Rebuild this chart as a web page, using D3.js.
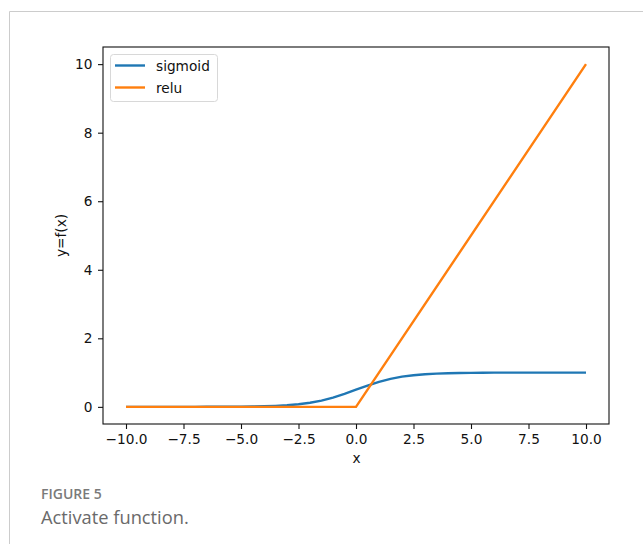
<!DOCTYPE html>
<html><head><meta charset="utf-8">
<script src="https://cdn.jsdelivr.net/npm/d3@7"></script>
<style>body{margin:0;background:#fff}svg{display:block}</style>
</head><body>
<script>
const xs = [-10,-9.5,-9,-8.5,-8,-7.5,-7,-6.5,-6,-5.5,-5,-4.5,-4,-3.5,-3,-2.5,-2,-1.5,-1,-0.5,0,0.5,1,1.5,2,2.5,3,3.5,4,4.5,5,5.5,6,6.5,7,7.5,8,8.5,9,9.5,10];
const sigmoidVals = [0.00005,0.00007,0.00012,0.0002,0.00034,0.00055,0.0009,0.0015,0.0025,0.0041,0.0067,0.011,0.018,0.029,0.047,0.076,0.119,0.182,0.269,0.378,0.5,0.622,0.731,0.818,0.881,0.924,0.953,0.971,0.982,0.989,0.993,0.996,0.998,0.998,0.999,0.999,1,1,1,1,1];
const reluX = [-10,0,10];
const reluVals = [0,0,10];
const xTicks = [-10,-7.5,-5,-2.5,0,2.5,5,7.5,10];
const yTicks = [0,2,4,6,8,10];
const seriesNames = ["sigmoid","relu"];
const colors = ["#1f77b4","#ff7f0e"];

const W=643,H=544;
const svg=d3.select("body").append("svg").attr("width",W).attr("height",H);
svg.append("path").attr("d",`M9.5,${H+2} V11.5 H${W+2}`).attr("fill","none").attr("stroke","#ccc").attr("stroke-width",1);

const L=103,R=609,T=47,B=424;
const x=d3.scaleLinear().domain([-11,11]).range([L,R]);
const y=d3.scaleLinear().domain([-0.5,10.5]).range([B,T]);
const fmtX=d=>d3.format(".1f")(d).replace("-","−");
const font="DejaVu Sans, sans-serif";
const fs="13.7px";
const ink="#111";

const gx=svg.append("g").attr("transform",`translate(0,${B})`).call(d3.axisBottom(x).tickValues(xTicks).tickFormat(fmtX).tickSize(5).tickSizeOuter(0).tickPadding(5.5));
const gy=svg.append("g").attr("transform",`translate(${L},0)`).call(d3.axisLeft(y).tickValues(yTicks).tickFormat(d3.format("d")).tickSize(5).tickSizeOuter(0).tickPadding(5.5));
[gx,gy].forEach(g=>{g.select(".domain").remove();g.selectAll("line").attr("stroke",ink).attr("stroke-width",1.1);g.selectAll("text").attr("font-family",font).attr("font-size",fs).attr("fill",ink);});

const line=d3.line().x(d=>x(d[0])).y(d=>y(d[1]));
svg.append("defs").append("clipPath").attr("id","c").append("rect").attr("x",L).attr("y",T).attr("width",R-L).attr("height",B-T);
svg.append("path").datum(xs.map((v,i)=>[v,sigmoidVals[i]])).attr("d",line).attr("fill","none").attr("stroke",colors[0]).attr("stroke-width",2.4).attr("clip-path","url(#c)");
svg.append("path").datum(reluX.map((v,i)=>[v,reluVals[i]])).attr("d",line).attr("fill","none").attr("stroke",colors[1]).attr("stroke-width",2.4).attr("clip-path","url(#c)");

svg.append("rect").attr("x",L).attr("y",T).attr("width",R-L).attr("height",B-T).attr("fill","none").attr("stroke",ink).attr("stroke-width",1.1);

// legend
const lg=svg.append("g");
lg.append("rect").attr("x",110.5).attr("y",54.5).attr("width",107).attr("height",47).attr("rx",3).attr("fill","#fff").attr("fill-opacity",0.8).attr("stroke","#d8d8d8");
seriesNames.forEach((n,i)=>{
  const yy=65.5+i*22;
  lg.append("line").attr("x1",115).attr("x2",145).attr("y1",yy).attr("y2",yy).attr("stroke",colors[i]).attr("stroke-width",2.4);
  lg.append("text").attr("x",156).attr("y",yy+5).text(n).attr("font-family",font).attr("font-size",fs).attr("fill",ink);
});

svg.append("text").attr("x",(L+R)/2+0.5).attr("y",463).attr("text-anchor","middle").text("x").attr("font-family",font).attr("font-size",fs).attr("fill",ink);
svg.append("text").attr("transform",`translate(66,${(T+B)/2}) rotate(-90)`).attr("text-anchor","middle").text("y=f(x)").attr("font-family",font).attr("font-size",fs).attr("fill",ink);

svg.append("text").attr("x",41).attr("y",499).text("FIGURE 5").attr("font-family","Open Sans, sans-serif").attr("font-weight",600).attr("font-size","14px").attr("fill","#7a7a7a");
svg.append("text").attr("x",41).attr("y",524).text("Activate function.").attr("font-family","Open Sans, sans-serif").attr("font-size","18.3px").attr("fill","#6a6a6a");
</script>
</body></html>
